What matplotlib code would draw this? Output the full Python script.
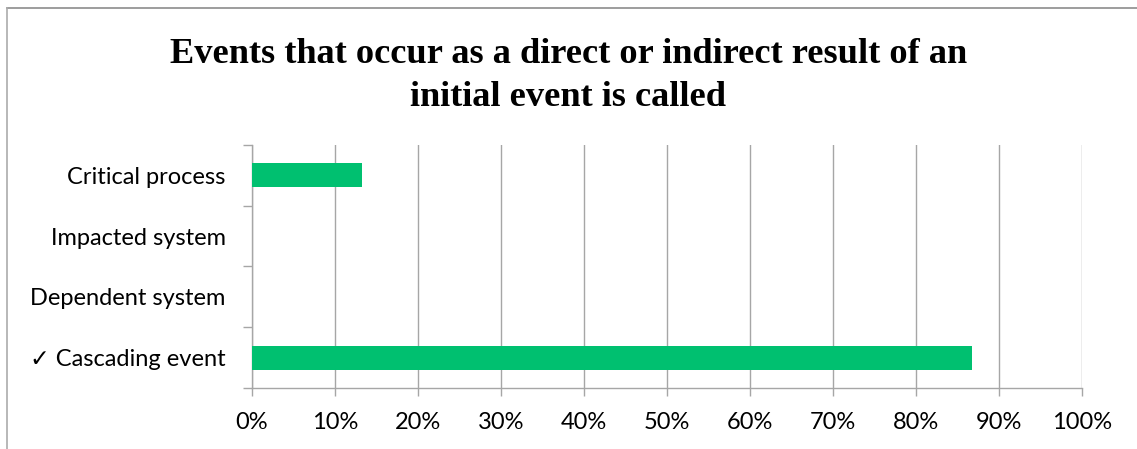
import matplotlib.pyplot as plt
from matplotlib.lines import Line2D
from matplotlib.ticker import FuncFormatter, MultipleLocator

categories = ["\u2713 Cascading event", "Dependent system", "Impacted system", "Critical process"]
shares = [86.7, 0.0, 0.0, 13.3]

title = "Events that occur as a direct or indirect result of an\ninitial event is called"
bar_color = "#00C070"
grid_color = "#A6A6A6"
label_font = ["Lato", "DejaVu Sans"]

fig = plt.figure(figsize=(11.37, 4.49), dpi=100)
ax = fig.add_axes([0.2216, 0.136, 0.730, 0.541])

positions = range(len(categories))
ax.barh(positions, shares, height=0.395, color=bar_color, zorder=3)

ax.set_xlim(0, 100)
ax.set_ylim(-0.5, len(categories) - 0.5)

ax.xaxis.set_major_locator(MultipleLocator(10))
ax.xaxis.set_major_formatter(FuncFormatter(lambda v, _: f"{v:.0f}%"))
ax.grid(axis="x", color=grid_color, linewidth=1.0, zorder=0)

ax.set_yticks(list(positions))
ax.set_yticklabels(categories)
ax.set_yticks([p - 0.5 for p in range(len(categories) + 1)], minor=True)
ax.tick_params(axis="y", which="major", length=0, pad=19)
ax.tick_params(axis="y", which="minor", length=6.5, color=grid_color, width=1.0)
ax.tick_params(axis="x", length=6, color=grid_color, width=1.0, pad=11)

for lbl in ax.get_xticklabels() + ax.get_yticklabels():
    lbl.set_fontfamily(label_font)
    lbl.set_fontsize(17)
    lbl.set_color("#000000")

for side in ("top", "right"):
    ax.spines[side].set_visible(False)
for side in ("left", "bottom"):
    ax.spines[side].set_color(grid_color)
    ax.spines[side].set_linewidth(1.0)

fig.text(0.5, 0.764, title, ha="center", va="baseline", fontsize=26.2,
         fontweight="bold", family="Liberation Serif", linespacing=1.4)

# chart frame: top and left edges only
fig.add_artist(Line2D([0.006, 1.0], [0.983, 0.983], color="#8C8C8C", linewidth=1.2))
fig.add_artist(Line2D([0.006, 0.006], [0.0, 0.983], color="#ABABAB", linewidth=1.2))

fig.savefig("out.png", dpi=100)
